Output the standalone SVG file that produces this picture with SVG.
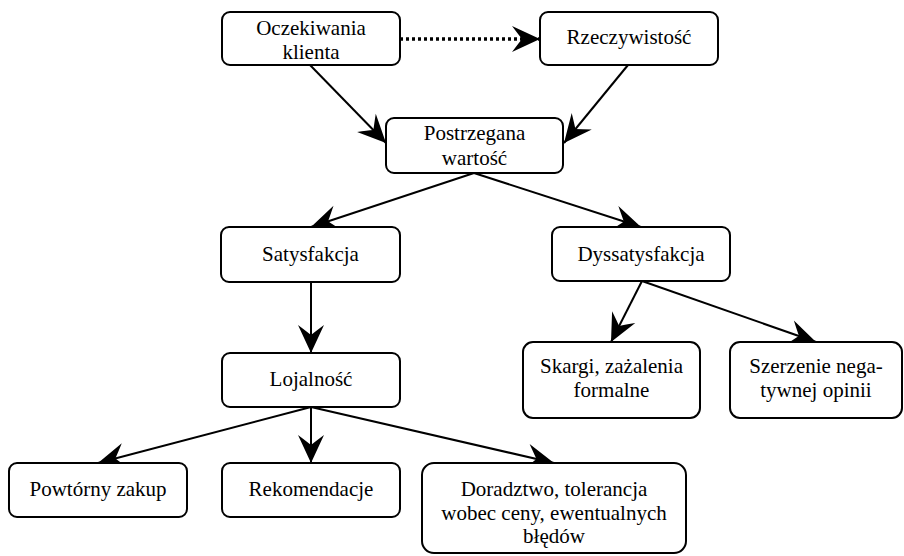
<svg xmlns="http://www.w3.org/2000/svg" width="904" height="556" viewBox="0 0 904 556">
<style>
.box{fill:#fff;stroke:#000;stroke-width:2}
.t{font-family:"Liberation Serif","Times New Roman",serif;font-size:21px;fill:#000;text-anchor:middle}
.c{stroke:#000;stroke-width:2;fill:none;marker-end:url(#ah)}
.d{stroke:#000;stroke-width:3.5;fill:none;stroke-dasharray:3 3;marker-end:url(#ah)}
</style>
<defs>
<marker id="ah" markerUnits="userSpaceOnUse" orient="auto" overflow="visible" refX="0" refY="0" markerWidth="30" markerHeight="30">
<path d="M0,0 L-28,-13 Q-22,-5 -18,0 Q-22,5 -28,13 Z" fill="#000"/>
</marker>
</defs>
<rect width="904" height="556" fill="#fff"/>
<g id="connectors">
<line class="d" x1="400" y1="39" x2="540" y2="39"/>
<line class="c" x1="310" y1="65" x2="386" y2="143"/>
<line class="c" x1="628" y1="65" x2="564" y2="143"/>
<line class="c" x1="474" y1="173" x2="311" y2="227"/>
<line class="c" x1="474" y1="173" x2="641" y2="227"/>
<line class="c" x1="311" y1="283" x2="311" y2="353"/>
<line class="c" x1="642" y1="281" x2="611" y2="342"/>
<line class="c" x1="642" y1="281" x2="816" y2="342"/>
<line class="c" x1="311" y1="407" x2="98" y2="463"/>
<line class="c" x1="311" y1="407" x2="311" y2="463"/>
<line class="c" x1="311" y1="407" x2="554" y2="463"/>
</g>
<g id="oczekiwania">
<rect class="box" x="222" y="12" width="178" height="53" rx="8"/>
<text class="t" x="311" y="35">Oczekiwania</text>
<text class="t" x="311" y="59">klienta</text>
</g>
<g id="rzeczywistosc">
<rect class="box" x="540" y="12" width="178" height="53" rx="8"/>
<text class="t" x="629" y="44">Rzeczywistość</text>
</g>
<g id="postrzegana">
<rect class="box" x="386" y="118" width="177" height="55" rx="8"/>
<text class="t" x="474.5" y="140">Postrzegana</text>
<text class="t" x="474.5" y="165">wartość</text>
</g>
<g id="satysfakcja">
<rect class="box" x="221" y="227" width="179" height="55" rx="8"/>
<text class="t" x="310.5" y="261">Satysfakcja</text>
</g>
<g id="dyssatysfakcja">
<rect class="box" x="552" y="227" width="178" height="54" rx="8"/>
<text class="t" x="641" y="261">Dyssatysfakcja</text>
</g>
<g id="lojalnosc">
<rect class="box" x="222" y="353" width="178" height="54" rx="8"/>
<text class="t" x="311" y="386">Lojalność</text>
</g>
<g id="skargi">
<rect class="box" x="523" y="342" width="177" height="76" rx="10"/>
<text class="t" x="611.5" y="373">Skargi, zażalenia</text>
<text class="t" x="611.5" y="397">formalne</text>
</g>
<g id="szerzenie">
<rect class="box" x="730" y="342" width="172" height="76" rx="10"/>
<text class="t" x="816" y="373">Szerzenie nega-</text>
<text class="t" x="816" y="397">tywnej opinii</text>
</g>
<g id="powtorny">
<rect class="box" x="9" y="463" width="178" height="54" rx="8"/>
<text class="t" x="98" y="496">Powtórny zakup</text>
</g>
<g id="rekomendacje">
<rect class="box" x="222" y="463" width="178" height="54" rx="8"/>
<text class="t" x="311" y="496">Rekomendacje</text>
</g>
<g id="doradztwo">
<rect class="box" x="422" y="463" width="264" height="90" rx="12"/>
<text class="t" x="554" y="496">Doradztwo, tolerancja</text>
<text class="t" x="554" y="520">wobec ceny, ewentualnych</text>
<text class="t" x="554" y="543">błędów</text>
</g>
</svg>
